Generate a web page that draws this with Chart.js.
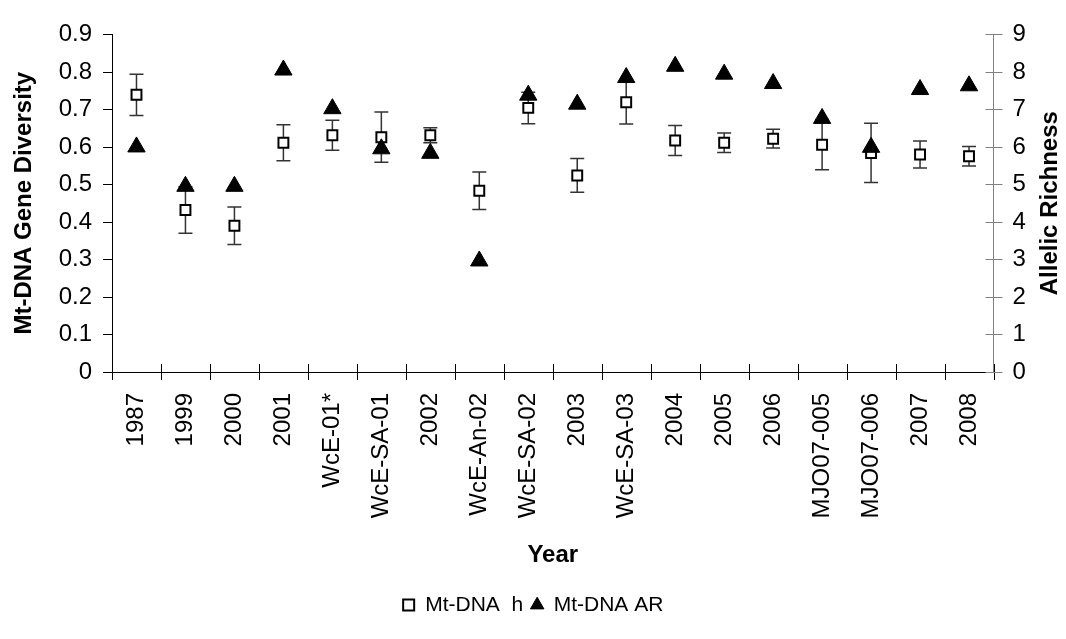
<!DOCTYPE html>
<html>
<head>
  <title>Mt-DNA diversity by year</title>
  <script src="https://cdn.jsdelivr.net/npm/chart.js"></script>
  <style>
    body { margin: 0; background: #fff; }
  </style>
</head>
<body>
  <canvas id="divChart" width="1066" height="639"></canvas>

  <script>
    // sampling years / cruises
    const samples = ['1987', '1999', '2000', '2001', 'WcE-01*', 'WcE-SA-01', '2002', 'WcE-An-02',
      'WcE-SA-02', '2003', 'WcE-SA-03', '2004', '2005', '2006', 'MJO07-005', 'MJO07-006', '2007', '2008'];

    // gene diversity h and its error
    const geneDiv = [0.739, 0.432, 0.390, 0.611, 0.631, 0.626, 0.631, 0.483, 0.704,
      0.524, 0.719, 0.617, 0.611, 0.622, 0.606, 0.584, 0.580, 0.575];
    const geneDivErr = [0.055, 0.062, 0.050, 0.048, 0.040, 0.067, 0.020, 0.050, 0.042,
      0.045, 0.058, 0.040, 0.026, 0.025, 0.067, 0.079, 0.036, 0.026];

    // allelic richness (right axis)
    const allelicRich = [6.00, 4.95, 4.95, 8.05, 7.02, 5.95, 5.83, 2.96, 7.38,
      7.14, 7.85, 8.15, 7.94, 7.69, 6.76, 5.99, 7.53, 7.63];

    Chart.defaults.font.family = '"Liberation Sans", Arial, sans-serif';
    Chart.defaults.color = '#000';

    // error bars under the h markers
    const errorBars = {
      id: 'errorBars',
      beforeDatasetsDraw(chart) {
        const x = chart.scales.x, y = chart.scales.y, ctx = chart.ctx;
        ctx.save();
        ctx.strokeStyle = '#333';
        ctx.lineWidth = 1.5;
        geneDiv.forEach((v, i) => {
          const px = x.getPixelForValue(i);
          const top = y.getPixelForValue(v + geneDivErr[i]);
          const bot = y.getPixelForValue(v - geneDivErr[i]);
          ctx.beginPath();
          ctx.moveTo(px, top); ctx.lineTo(px, bot);
          ctx.moveTo(px - 7, top); ctx.lineTo(px + 7, top);
          ctx.moveTo(px - 7, bot); ctx.lineTo(px + 7, bot);
          ctx.stroke();
        });
        ctx.restore();
      }
    };

    // tick marks (left outside, bottom and right crossing) + right title
    const axisMarks = {
      id: 'axisMarks',
      afterDatasetsDraw(chart) {
        const ctx = chart.ctx, a = chart.chartArea;
        const y = chart.scales.y, y1 = chart.scales.y1;
        ctx.save();
        ctx.lineWidth = 1;
        ctx.strokeStyle = '#000';
        ctx.beginPath();
        const step = (a.right - a.left) / samples.length;
        for (let i = 0; i <= samples.length; i++) {
          const px = Math.round(a.left + i * step) + 0.5;
          ctx.moveTo(px, a.bottom - 8); ctx.lineTo(px, a.bottom + 8);
        }
        y.ticks.forEach(t => {
          const py = Math.round(y.getPixelForValue(t.value)) + 0.5;
          ctx.moveTo(a.left - 9, py); ctx.lineTo(a.left, py);
        });
        ctx.stroke();
        ctx.strokeStyle = '#808080';
        ctx.beginPath();
        y1.ticks.forEach(t => {
          const py = Math.round(y1.getPixelForValue(t.value)) + 0.5;
          ctx.moveTo(a.right - 8, py); ctx.lineTo(a.right + 9, py);
        });
        ctx.stroke();

        ctx.translate(1050, (a.top + a.bottom) / 2);
        ctx.rotate(-Math.PI / 2);
        ctx.font = 'bold 24px "Liberation Sans", Arial, sans-serif';
        ctx.fillStyle = '#000';
        ctx.textAlign = 'center';
        ctx.textBaseline = 'middle';
        ctx.fillText('Allelic Richness', 0, 0);
        ctx.restore();
      }
    };

    const ctx = document.getElementById('divChart').getContext('2d');

    const chart = new Chart(ctx, {
      type: 'line',
      data: {
        labels: samples,
        datasets: [
          {
            label: 'Mt-DNA  h',
            data: geneDiv,
            yAxisID: 'y',
            showLine: false,
            order: 1,
            pointStyle: 'rect',
            pointRadius: 7,
            pointBorderWidth: 2,
            pointBorderColor: '#000',
            pointBackgroundColor: '#fff'
          },
          {
            label: 'Mt-DNA AR',
            data: allelicRich,
            yAxisID: 'y1',
            showLine: false,
            order: 0,
            pointStyle: 'triangle',
            pointRadius: 10,
            pointBorderWidth: 1,
            pointBorderColor: '#000',
            pointBackgroundColor: '#000'
          }
        ]
      },
      options: {
        responsive: false,
        animation: false,
        layout: { padding: { top: 21, left: 0, right: 0, bottom: 13.5 } },
        plugins: {
          tooltip: { enabled: false },
          legend: {
            position: 'bottom',
            labels: {
              usePointStyle: true,
              boxWidth: 12,
              boxHeight: 11,
              padding: 8,
              font: { size: 21 },
              sort: (a, b) => a.datasetIndex - b.datasetIndex
            }
          }
        },
        scales: {
          x: {
            offset: true,
            grid: { display: true, drawOnChartArea: false, drawTicks: false },
            border: { color: '#000' },
            ticks: { autoSkip: false, minRotation: 90, maxRotation: 90, padding: 21, font: { size: 24 } },
            title: { display: true, text: 'Year', font: { size: 24, weight: 'bold' }, padding: { top: 4, bottom: 17 } },
            afterFit: s => { s.height = 214.5; }
          },
          y: {
            position: 'left',
            min: 0,
            max: 0.9,
            grid: { display: true, drawOnChartArea: false, drawTicks: false },
            border: { color: '#000' },
            ticks: { stepSize: 0.1, padding: 20, font: { size: 24 } },
            title: { display: true, text: 'Mt-DNA Gene Diversity', font: { size: 24, weight: 'bold' }, padding: { top: 10, bottom: 4 } },
            afterFit: s => { s.width = 112; }
          },
          y1: {
            position: 'right',
            min: 0,
            max: 9,
            grid: { display: true, drawOnChartArea: false, drawTicks: false },
            border: { color: '#808080' },
            ticks: { stepSize: 1, padding: 19, font: { size: 24 } },
            afterFit: s => { s.width = 72.5; }
          }
        }
      },
      plugins: [errorBars, axisMarks]
    });
  </script>
</body>
</html>
